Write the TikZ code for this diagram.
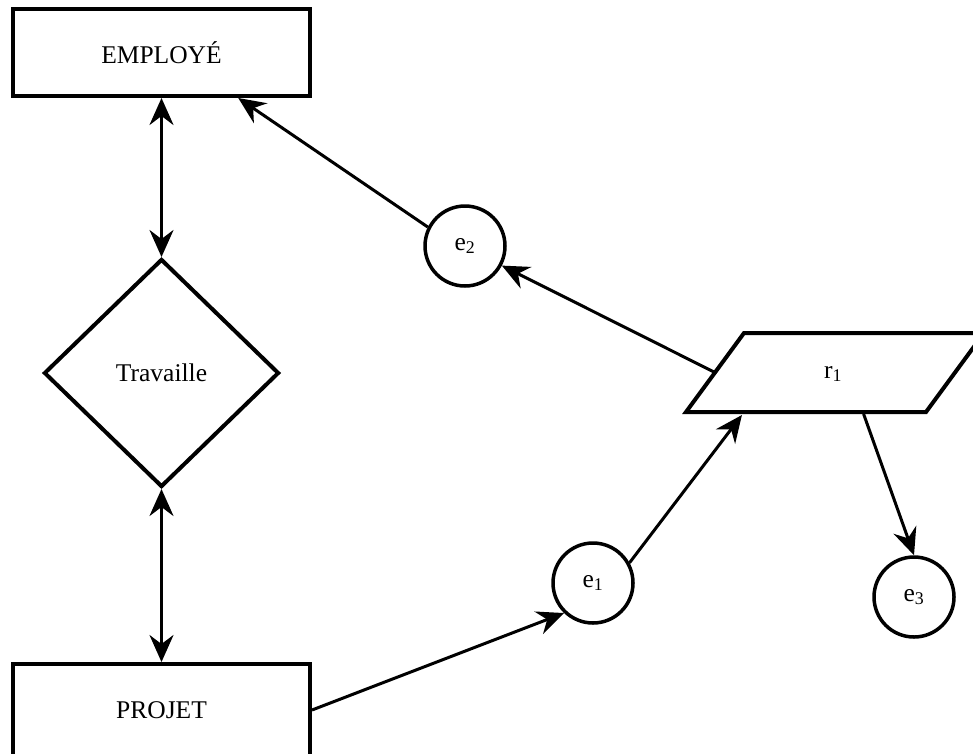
\documentclass[tikz,border=0pt]{standalone}
\usepackage{fontspec}
\setmainfont{Liberation Serif}
\usetikzlibrary{shapes, shapes.geometric, arrows.meta, positioning, calc}

\begin{document}
\begin{tikzpicture}[x=1pt, y=-1pt,
  font=\fontsize{25.5}{30}\selectfont,
  >={Stealth[length=27pt, width=24pt, inset=9pt]},
  entity/.style={rectangle, draw, line width=4pt, minimum width=297pt, inner sep=0pt},
  relation/.style={diamond, draw, line width=4pt, aspect=1, minimum width=235pt, minimum height=228pt, inner sep=0pt},
  occur/.style={circle, draw, line width=3.5pt, minimum size=80pt, inner sep=0pt},
  thick, line width=3pt]

  \useasboundingbox (0,0) rectangle (973,753);

  \node[entity, minimum height=87pt] (employe) at (161.5,52.5) {EMPLOYÉ};
  \node[relation] (travaille) at (161.5,373) {Travaille};
  \node[entity, minimum height=92pt] (projet) at (161.5,710) {PROJET};

  \node[occur] (e1) at (593,583) {e\textsubscript{1}};
  \node[occur] (e2) at (465,246) {e\textsubscript{2}};
  \node[occur] (e3) at (914,597) {e\textsubscript{3}};

  % parallelogramme r1
  \coordinate (r1sw) at (686,412);
  \coordinate (r1nw) at (744,333);
  \coordinate (r1ne) at (984,333);
  \coordinate (r1se) at (926,412);
  \draw[line width=4pt] (r1sw) -- (r1nw) -- (r1ne) -- (r1se) -- cycle;
  \node (r1) at (833,374) {r\textsubscript{1}};

  \draw[<->] (employe) -- (travaille);
  \draw[<->] (travaille) -- (projet);
  \draw[->] (projet.east) -- (e1.226);
  \draw[->] (e1.29) -- ($(r1sw)!0.233!(r1se)+(0,3)$);
  \draw[->] ($(r1sw)!0.5!(r1nw)$) -- (e2.-28);
  \draw[->] (e2.153) -- ($(employe.south)!0.51!(employe.south east)$);
  \draw[->] ($(r1sw)!0.74!(r1se)+(0,2)$) -- (e3.north);
\end{tikzpicture}
\end{document}
